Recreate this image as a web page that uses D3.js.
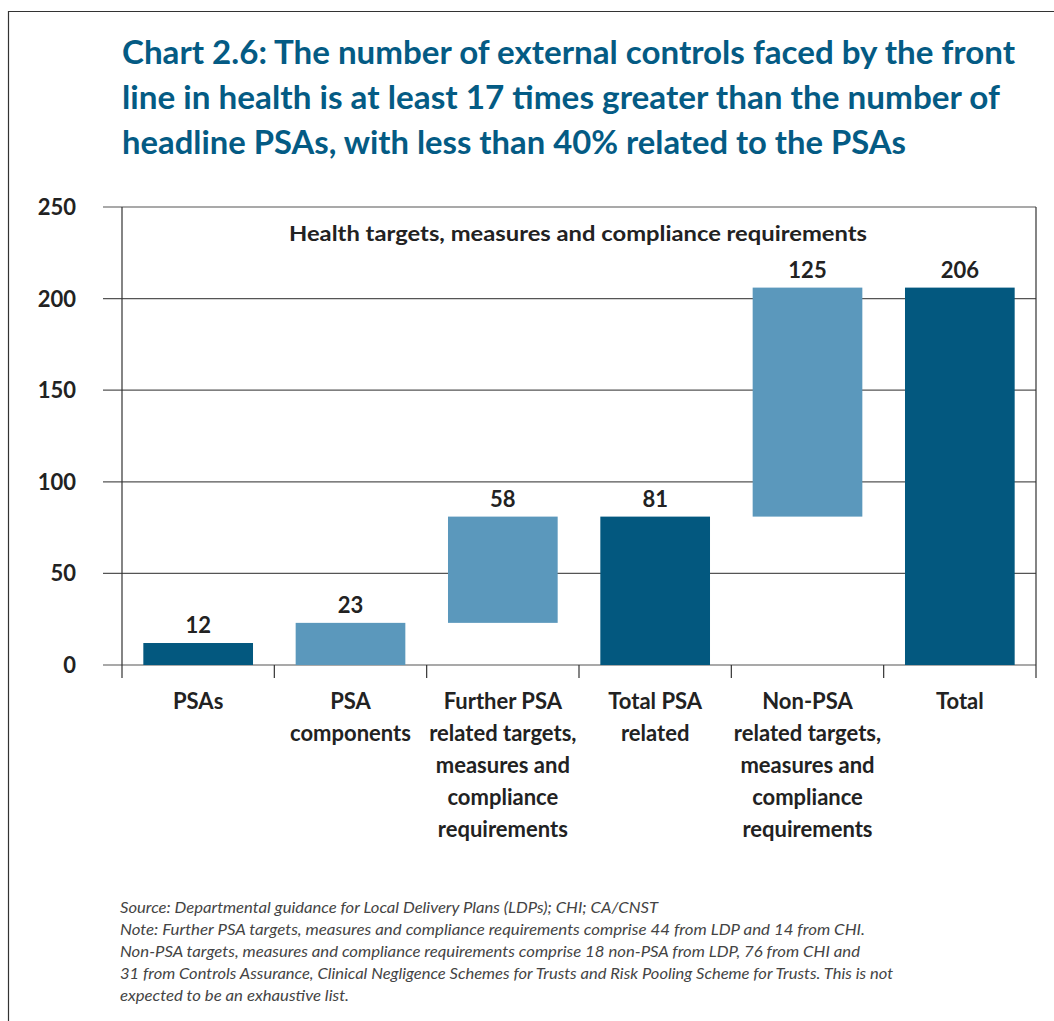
<!DOCTYPE html>
<html>
<head>
<meta charset="utf-8">
<script src="https://cdn.jsdelivr.net/npm/d3@7"></script>
<style>
  body { margin: 0; background: #fff; }
  svg { display: block; font-family: Lato, "Open Sans", sans-serif; }
</style>
</head>
<body>
<svg id="chart" width="1054" height="1021"></svg>
<script>
// chart data
const categories = ["PSAs", "PSA components", "Further PSA", "Total PSA related", "Non-PSA", "Total"];
const categoryLines = [
    ["PSAs"],
    ["PSA", "components"],
    ["Further PSA", "related targets,", "measures and", "compliance", "requirements"],
    ["Total PSA", "related"],
    ["Non-PSA", "related targets,", "measures and", "compliance", "requirements"],
    ["Total"]
];
const values = [12, 23, 58, 81, 125, 206];
const bases = [0, 0, 23, 0, 81, 0];
const isTotal = [true, false, false, true, false, true];
const yTicks = [0, 50, 100, 150, 200, 250];

const titleLines = [
    "Chart 2.6: The number of external controls faced by the front",
    "line in health is at least 17 times greater than the number of",
    "headline PSAs, with less than 40% related to the PSAs"
];
const subtitle = "Health targets, measures and compliance requirements";
const noteLines = [
    "Source: Departmental guidance for Local Delivery Plans (LDPs); CHI; CA/CNST",
    "Note: Further PSA targets, measures and compliance requirements comprise 44 from LDP and 14 from CHI.",
    "Non-PSA targets, measures and compliance requirements comprise 18 non-PSA from LDP, 76 from CHI and",
    "31 from Controls Assurance, Clinical Negligence Schemes for Trusts and Risk Pooling Scheme for Trusts. This is not",
    "expected to be an exhaustive list."
];

const darkBlue = "#03587f";
const lightBlue = "#5b98bc";
const titleColor = "#045b84";

let svg = d3.select("#chart");

// outer frame (top and left edge)
svg.append("path")
    .attr("d", "M8.5,1021 V11.5 H1054")
    .attr("fill", "none")
    .attr("stroke", "#333")
    .attr("stroke-width", 1.2);

// title
const titleWidths = [893, 878, 784];
svg.append("g").selectAll("text")
    .data(titleLines)
    .enter()
    .append("text")
    .attr("x", 122)
    .attr("y", (d, i) => 64 + i * 45)
    .attr("fill", titleColor)
    .attr("font-size", "32px")
    .attr("font-weight", "bold")
    .attr("textLength", (d, i) => titleWidths[i])
    .attr("lengthAdjust", "spacingAndGlyphs")
    .text(d => d);

const plotLeft = 122, plotRight = 1036, plotTop = 207, plotBottom = 665;

let x = d3.scaleBand()
    .domain(categories)
    .range([plotLeft, plotRight])
    .paddingInner(0.28)
    .paddingOuter(0.14);

let y = d3.scaleLinear()
    .domain([0, 250])
    .range([plotBottom, plotTop]);

// gridlines + y labels
let grid = svg.append("g");
grid.selectAll("line")
    .data(yTicks)
    .enter()
    .append("line")
    .attr("x1", 103)
    .attr("x2", plotRight)
    .attr("y1", d => y(d))
    .attr("y2", d => y(d))
    .attr("stroke", "#555")
    .attr("stroke-width", 1.2);

grid.selectAll("text")
    .data(yTicks)
    .enter()
    .append("text")
    .attr("x", 76)
    .attr("y", d => y(d))
    .attr("dy", "0.36em")
    .attr("text-anchor", "end")
    .attr("font-size", "22px")
    .attr("font-weight", "bold")
    .attr("fill", "#222")
    .text(d => d);

// category boundary ticks + frame verticals
const bounds = d3.range(categories.length + 1).map(i => plotLeft + i * (plotRight - plotLeft) / categories.length);
svg.append("g").selectAll("line")
    .data(bounds)
    .enter()
    .append("line")
    .attr("x1", d => d)
    .attr("x2", d => d)
    .attr("y1", (d, i) => (i == 0 || i == bounds.length - 1) ? plotTop : plotBottom)
    .attr("y2", plotBottom + 13)
    .attr("stroke", "#333")
    .attr("stroke-width", 1.2);

// subtitle
svg.append("text")
    .attr("x", 578)
    .attr("y", 241)
    .attr("text-anchor", "middle")
    .attr("font-size", "20px")
    .attr("font-weight", "bold")
    .attr("fill", "#222")
    .attr("textLength", 578)
    .attr("lengthAdjust", "spacingAndGlyphs")
    .text(subtitle);

// bars
svg.append("g").selectAll("rect")
    .data(categories)
    .enter()
    .append("rect")
    .attr("x", d => x(d))
    .attr("width", x.bandwidth())
    .attr("y", (d, i) => y(bases[i] + values[i]))
    .attr("height", (d, i) => y(bases[i]) - y(bases[i] + values[i]))
    .attr("fill", (d, i) => isTotal[i] ? darkBlue : lightBlue);

// value labels
svg.append("g").selectAll("text")
    .data(categories)
    .enter()
    .append("text")
    .attr("x", d => x(d) + x.bandwidth() / 2)
    .attr("y", (d, i) => y(bases[i] + values[i]) - 10)
    .attr("text-anchor", "middle")
    .attr("font-size", "22px")
    .attr("font-weight", "bold")
    .attr("fill", "#222")
    .text((d, i) => values[i]);

// category labels
let catLabels = svg.append("g").selectAll("text")
    .data(categories)
    .enter()
    .append("text")
    .attr("text-anchor", "middle")
    .attr("font-size", "22px")
    .attr("font-weight", "bold")
    .attr("fill", "#222");

catLabels.selectAll("tspan")
    .data((d, i) => categoryLines[i].map(line => ({cat: d, line: line})))
    .enter()
    .append("tspan")
    .attr("x", d => x(d.cat) + x.bandwidth() / 2)
    .attr("y", (d, j) => 709 + j * 32)
    .text(d => d.line);

// footnote
const noteWidths = [538, 745, 740, 773, 229];
svg.append("g").selectAll("text")
    .data(noteLines)
    .enter()
    .append("text")
    .attr("x", 120)
    .attr("y", (d, i) => 913 + i * 22)
    .attr("font-size", "15px")
    .attr("font-style", "italic")
    .attr("fill", "#444")
    .attr("textLength", (d, i) => noteWidths[i])
    .attr("lengthAdjust", "spacingAndGlyphs")
    .text(d => d);
</script>
</body>
</html>
